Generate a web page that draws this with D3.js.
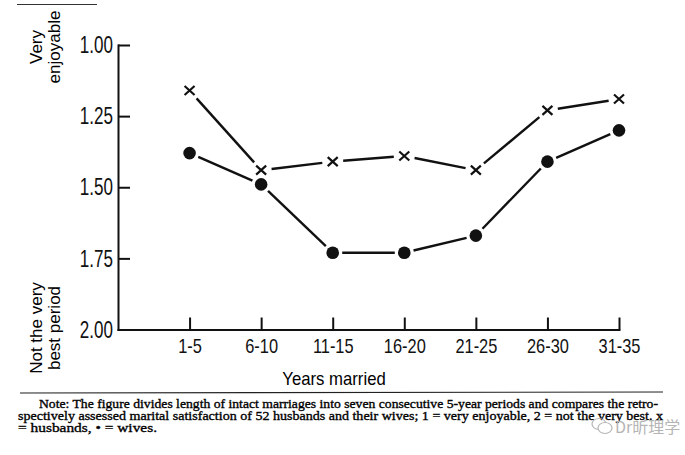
<!DOCTYPE html>
<html>
<head>
<meta charset="utf-8">
<script src="https://cdn.jsdelivr.net/npm/d3@7"></script>
<style>
  body { margin: 0; background: #fff; }
  svg { display: block; }
  .axis path, .axis line { stroke: #111; stroke-width: 2; }
  .axis text { font-family: "Liberation Sans", Arial, sans-serif; fill: #111; }
</style>
</head>
<body>
<div id="chart"></div>
<script>
var periods = ["1-5", "6-10", "11-15", "16-20", "21-25", "26-30", "31-35"];
var husbands = [1.16, 1.44, 1.41, 1.39, 1.44, 1.23, 1.19];
var wives = [1.38, 1.49, 1.73, 1.73, 1.67, 1.41, 1.30];
var yTicks = [1.00, 1.25, 1.50, 1.75, 2.00];

var noteLines = [
  "Note: The figure divides length of intact marriages into seven consecutive 5-year periods and compares the retro-",
  "spectively assessed marital satisfaction of 52 husbands and their wives; 1 = very enjoyable, 2 = not the very best.  x",
  "= husbands, \u2022 = wives."
];

var w = 685, h = 455;
var plotLeft = 118, plotRight = 619, plotTop = 45, plotBottom = 329.5;

var svg = d3.select("#chart").append("svg")
  .attr("width", w)
  .attr("height", h);

var xScale = d3.scaleLinear().domain([0, periods.length]).range([plotLeft, plotRight]);
var yScale = d3.scaleLinear().domain([1, 2]).range([plotTop, plotBottom]);

// squeeze text to look like the narrow typeface of the scan
function squeeze(sel, f) {
  sel.each(function() {
    var len = this.getComputedTextLength();
    d3.select(this).attr("textLength", len * f).attr("lengthAdjust", "spacingAndGlyphs");
  });
}

var yAxis = d3.axisLeft(yScale)
  .tickValues(yTicks)
  .tickSizeInner(-12)
  .tickSizeOuter(0)
  .tickFormat(d3.format(".2f"));

var gy = svg.append("g")
  .attr("class", "axis")
  .attr("transform", "translate(" + plotLeft + ",0)")
  .call(yAxis);
gy.selectAll("text")
  .attr("x", -5)
  .style("font-size", "24px")
  .call(squeeze, 0.71);

var xAxis = d3.axisBottom(xScale)
  .tickValues(d3.range(1, periods.length + 1))
  .tickSizeInner(-12)
  .tickSizeOuter(0)
  .tickFormat(function(d) { return periods[d - 1]; });

var gx = svg.append("g")
  .attr("class", "axis")
  .attr("transform", "translate(0," + plotBottom + ")")
  .call(xAxis);
gx.selectAll("text")
  .attr("y", 9)
  .style("font-size", "21px")
  .call(squeeze, 0.78);

svg.selectAll(".axis .domain").attr("stroke-linecap", "square");

// axis titles
svg.append("text")
  .attr("x", 334)
  .attr("y", 385)
  .attr("text-anchor", "middle")
  .style("font-family", "Liberation Sans, Arial, sans-serif")
  .style("font-size", "19px")
  .text("Years married")
  .call(squeeze, 0.88);

function sideLabel(lines, cy) {
  var t = svg.append("text")
    .attr("transform", "translate(42," + cy + ") rotate(-90)")
    .attr("text-anchor", "middle")
    .style("font-family", "Liberation Sans, Arial, sans-serif")
    .style("font-size", "17px");
  t.selectAll("tspan").data(lines).enter().append("tspan")
    .attr("x", 0)
    .attr("y", function(d, i) { return i * 18; })
    .text(function(d) { return d; });
}
sideLabel(["Very", "enjoyable"], 47);
sideLabel(["Not the very", "best period"], 328);

// lines with little gaps at the markers
function drawSeries(data, gap) {
  for (var i = 0; i < data.length - 1; i++) {
    var x0 = xScale(i + 1), y0 = yScale(data[i]);
    var x1 = xScale(i + 2), y1 = yScale(data[i + 1]);
    var dx = x1 - x0, dy = y1 - y0, len = Math.sqrt(dx * dx + dy * dy);
    var ux = dx / len, uy = dy / len;
    svg.append("path")
      .datum([[x0 + ux * gap, y0 + uy * gap], [x1 - ux * gap, y1 - uy * gap]])
      .attr("fill", "none")
      .attr("stroke", "#111")
      .attr("stroke-width", 2.4)
      .attr("d", d3.line());
  }
}
drawSeries(husbands, 10.5);
drawSeries(wives, 9.5);

svg.selectAll(".dot")
  .data(wives)
  .enter().append("circle")
  .attr("class", "dot")
  .attr("cx", function(d, i) { return xScale(i + 1); })
  .attr("cy", function(d) { return yScale(d); })
  .attr("r", 6.3)
  .attr("fill", "#111");

svg.selectAll(".cross")
  .data(husbands)
  .enter().append("path")
  .attr("class", "cross")
  .attr("transform", function(d, i) { return "translate(" + xScale(i + 1) + "," + yScale(d) + ")"; })
  .attr("d", "M-5,-4.5L5,4.5M-5,4.5L5,-4.5")
  .attr("fill", "none")
  .attr("stroke", "#111")
  .attr("stroke-width", 2.2);

// scan edges
svg.append("line")
  .attr("x1", 17).attr("x2", 97).attr("y1", 4.5).attr("y2", 4.5)
  .attr("stroke", "#333").attr("stroke-width", 1);
svg.append("line")
  .attr("x1", 20).attr("x2", 663).attr("y1", 393).attr("y2", 392)
  .attr("stroke", "#222").attr("stroke-width", 1.2);

// note
var noteX = [39, 18, 18];
var noteW = [619, 645, 139];
var noteY = [408, 420, 432];
svg.selectAll(".note")
  .data(noteLines)
  .enter().append("text")
  .attr("class", "note")
  .attr("x", function(d, i) { return noteX[i]; })
  .attr("y", function(d, i) { return noteY[i]; })
  .attr("textLength", function(d, i) { return noteW[i]; })
  .attr("lengthAdjust", "spacingAndGlyphs")
  .style("font-family", "Liberation Serif, Times New Roman, serif")
  .style("font-size", "13px")
  .attr("fill", "#000")
  .attr("stroke", "#000")
  .attr("stroke-width", 0.35)
  .text(function(d) { return d; });

// watermark
var wm = svg.append("g").attr("transform", "translate(592,418)")
  .attr("fill", "none").attr("stroke", "#b5b5b5").attr("stroke-width", 1.2);
wm.append("ellipse").attr("cx", 7).attr("cy", 6).attr("rx", 7).attr("ry", 5.5);
wm.append("ellipse").attr("cx", 13).attr("cy", 10).attr("rx", 7).attr("ry", 5.5).attr("fill", "#fff");
svg.append("text")
  .attr("x", 615)
  .attr("y", 433)
  .style("font-family", "Noto Sans CJK SC, sans-serif")
  .style("font-size", "16px")
  .attr("fill", "#b5b5b5")
  .text("Dr\u6615\u7406\u5b66");
</script>
</body>
</html>
